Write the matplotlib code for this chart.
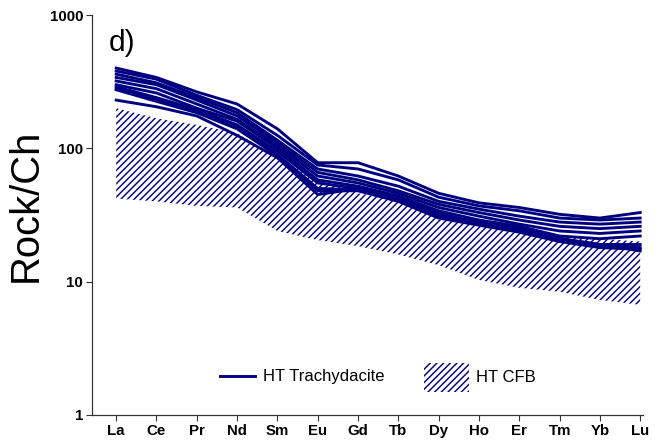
import matplotlib
matplotlib.use("Agg")
import matplotlib.pyplot as plt
from matplotlib.lines import Line2D
from matplotlib.patches import Patch
import numpy as np

elements = ["La", "Ce", "Pr", "Nd", "Sm", "Eu", "Gd", "Tb", "Dy", "Ho", "Er", "Tm", "Yb", "Lu"]

# HT Trachydacite samples (chondrite-normalised)
s1 = [400, 340, 265, 215, 140, 78, 78, 62, 46, 39, 36, 32, 30, 33]
s2 = [380, 330, 250, 195, 125, 75, 70, 58, 43, 37, 34, 30, 29, 30]
s3 = [360, 310, 240, 185, 115, 70, 62, 52, 40, 35, 31, 28, 27, 28]
s4 = [340, 300, 230, 175, 110, 66, 58, 48, 38, 33, 29, 26, 25, 26]
s5 = [320, 280, 215, 165, 105, 62, 55, 46, 36, 31, 27, 24, 23, 24]
s6 = [300, 260, 200, 160, 100, 58, 52, 44, 34, 29, 26, 22, 21, 22]
s7 = [290, 240, 195, 150, 95, 55, 50, 42, 32, 28, 25, 21, 19, 19]
s8 = [280, 230, 190, 145, 90, 50, 49, 41, 31, 27, 24, 20.5, 18.5, 18]
s9 = [275, 225, 185, 140, 88, 48, 48, 40, 30, 26.5, 23.5, 20, 18, 17.5]
s10 = [230, 205, 175, 125, 85, 45, 50, 42, 33, 27, 24, 21, 19, 17]
samples = [s1, s2, s3, s4, s5, s6, s7, s8, s9, s10]

# HT CFB field
cfb_upper = [200, 168, 150, 130, 85, 58, 46, 41, 33, 28, 25, 22, 21, 20]
cfb_lower = [42, 40, 37, 36, 24, 20.5, 18.5, 16, 13.3, 10.3, 9, 8.4, 7.3, 6.7]

yticks = [1, 10, 100, 1000]
ytick_labels = ["1", "10", "100", "1000"]

navy = "#000080"
DPI = 80
plt.rcParams["font.family"] = ["Liberation Sans", "DejaVu Sans"]
plt.rcParams["hatch.linewidth"] = 1.3

fig = plt.figure(figsize=(658 / DPI, 448 / DPI), dpi=DPI)
ax = fig.add_axes([92 / 658, 1 - 415 / 448, (643 - 92) / 658, (415 - 15) / 448])

x = np.arange(len(elements))
ax.fill_between(x, cfb_lower, cfb_upper, facecolor="none", edgecolor=navy,
                hatch="////", linewidth=0)
for s in samples:
    ax.plot(x, s, color=navy, lw=2.6, solid_joinstyle="miter")

ax.set_yscale("log")
ax.set_ylim(1, 1000)
ax.set_xlim(-0.6, 13.07)
ax.set_yticks(yticks)
ax.set_yticklabels(ytick_labels)
ax.yaxis.set_minor_locator(matplotlib.ticker.NullLocator())
ax.set_xticks(x)
ax.set_xticklabels(elements)
for lab in ax.get_xticklabels():
    lab.set_fontweight("bold")
    lab.set_fontsize(13.5)
for lab in ax.get_yticklabels():
    lab.set_fontweight("bold")
    lab.set_fontsize(13.5)
ax.tick_params(axis="both", direction="out", length=5, width=1, color="#333333", pad=3)
for side in ["top", "right"]:
    ax.spines[side].set_visible(False)
for side in ["left", "bottom"]:
    ax.spines[side].set_linewidth(1.1)
    ax.spines[side].set_color("#333333")

ax.set_ylabel("Rock/Ch", fontsize=36)
ax.yaxis.set_label_coords(-0.085, 0.525)

ax.text(0.03, 0.93, "d)", transform=ax.transAxes, fontsize=27, va="center", ha="left")

leg1 = ax.legend(handles=[Line2D([], [], color=navy, lw=2.6)], labels=["HT Trachydacite"],
                 frameon=False, fontsize=15, handlelength=2.1, handletextpad=0.5,
                 loc="center left", bbox_to_anchor=(0.205, 0.095))
ax.add_artist(leg1)
ax.legend(handles=[Patch(facecolor="none", edgecolor=navy, hatch="////", linewidth=0)],
          labels=["HT CFB"], frameon=False, fontsize=15, handlelength=2.7,
          handleheight=2.3, handletextpad=0.45,
          loc="center left", bbox_to_anchor=(0.575, 0.095))

fig.savefig("out.png", dpi=DPI)
